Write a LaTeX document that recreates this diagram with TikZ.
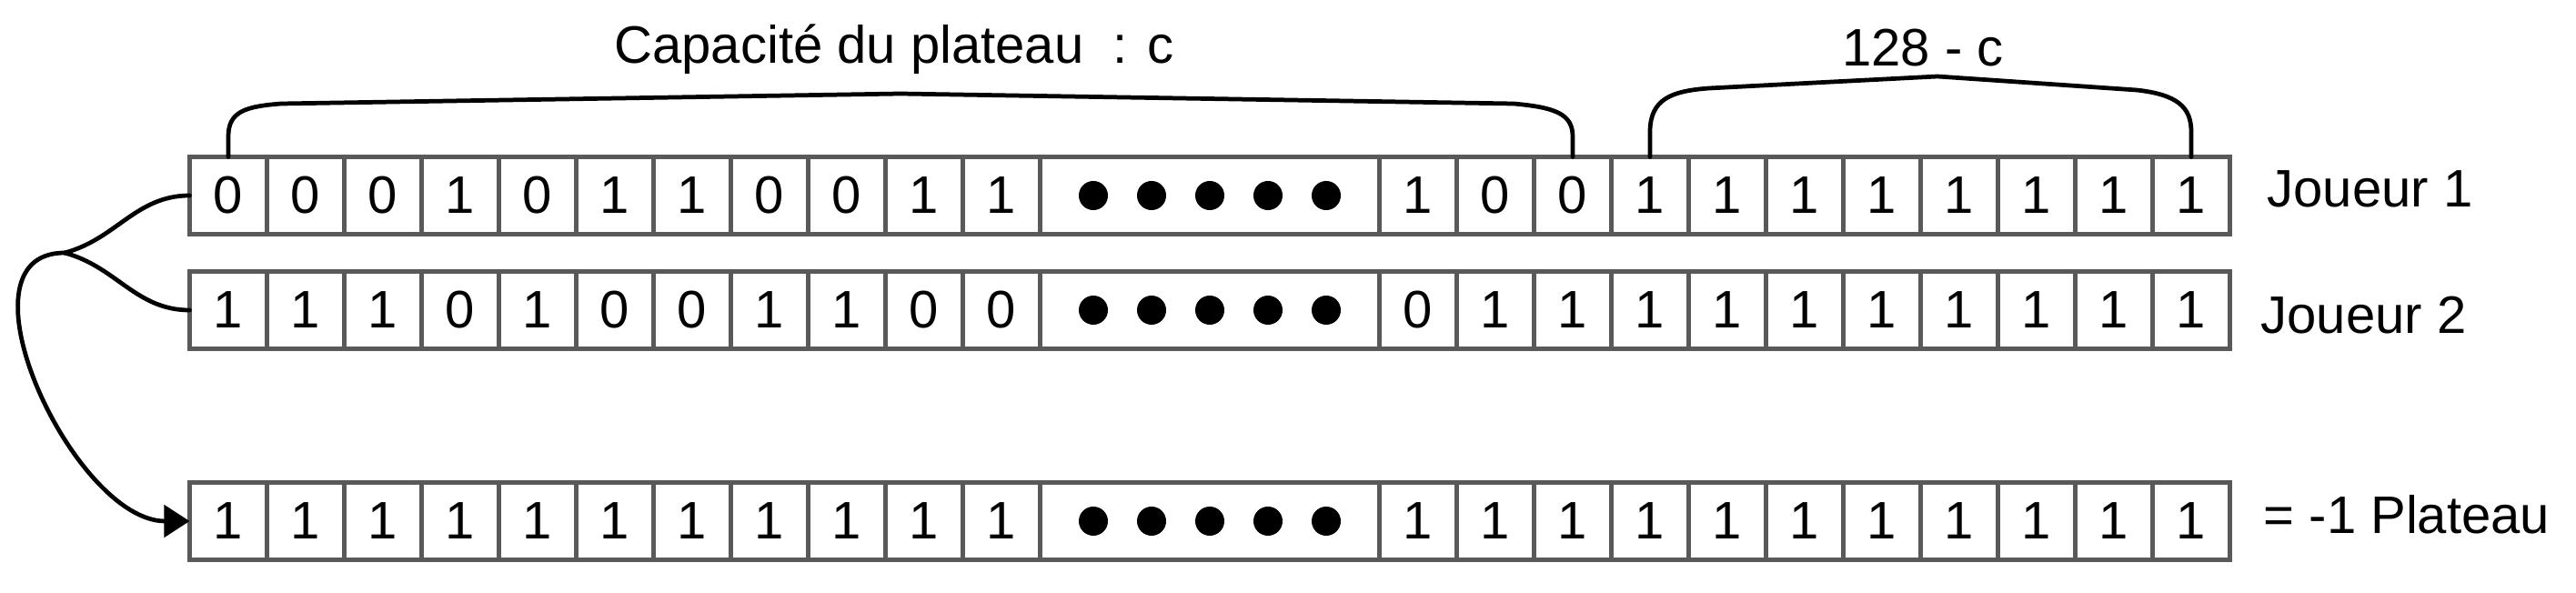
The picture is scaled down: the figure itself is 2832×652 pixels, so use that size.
\documentclass[tikz,border=0pt]{standalone}
\usepackage{fontspec}
\setmainfont{Liberation Sans}
\usetikzlibrary{positioning,arrows.meta}

\definecolor{cellgray}{RGB}{89,89,89}

\tikzset{
  cell/.style={draw=cellgray, line width=1.45pt, minimum width=0.85cm, minimum height=0.85cm,
    inner sep=0pt, outer sep=0pt, font=\fontsize{16.5}{20}\selectfont},
  lbl/.style={inner sep=0pt, font=\fontsize{16.5}{20}\selectfont},
  link/.style={line width=1.35pt, line cap=round, line join=round},
}

\begin{document}
\begin{tikzpicture}[x=0.01cm, y=-0.01cm]
  \useasboundingbox (0,0) rectangle (2832,652);
  \foreach \r/\y/\L/\R in {A/215/{0,0,0,1,0,1,1,0,0,1,1}/{1,0,0,1,1,1,1,1,1,1,1},
                           B/341/{1,1,1,0,1,0,0,1,1,0,0}/{0,1,1,1,1,1,1,1,1,1,1},
                           P/573/{1,1,1,1,1,1,1,1,1,1,1}/{1,1,1,1,1,1,1,1,1,1,1}} {
    \foreach \b [count=\i] in \L
      \node[cell] (\r\i) at (166+85*\i, \y) {\b};
    \node[cell, minimum width=3.73cm] (D\r) at (1330, \y) {};
    \foreach \k in {-2,...,2}
      \fill (1330+64*\k, \y) circle[radius=0.16cm];
    \foreach \b [count=\i from 12] in \R
      \node[cell] (\r\i) at (539+85*\i, \y) {\b};
  }
  \node[lbl] (cap) at (983,54) {Capacité du plateau~~: c};
  \node[lbl] (rest) at (2114,53) {128 - c};
  \node[lbl, anchor=west] (J1) at (2492,208) {Joueur 1};
  \node[lbl, anchor=west] (J2) at (2485,347) {Joueur 2};
  \node[lbl, anchor=west] (PL) at (2488,566) {= -1 Plateau};
  \draw[link] (A1.north) -- (251,150) .. controls (251,122) and (271,117) .. (309,114)
    -- (990,103) -- (1664,114) .. controls (1709,118) and (1729,125) .. (1729,150) -- (A14.north);
  \draw[link] (A15.north) -- (1814,145) .. controls (1814,108) and (1839,100) .. (1879,97)
    -- (2130,84) -- (2349,99) .. controls (2394,104) and (2409,118) .. (2409,145) -- (A22.north);
  \coordinate (J) at (71,278);
  \draw[link] (J) to[out=15, in=180] (A1.west);
  \draw[link] (J) to[out=-15, in=180] (B1.west);
  \draw[link, -{Triangle[length=8pt, width=10pt]}] (J) to[out=180, in=180] (P1.west);
\end{tikzpicture}
\end{document}
